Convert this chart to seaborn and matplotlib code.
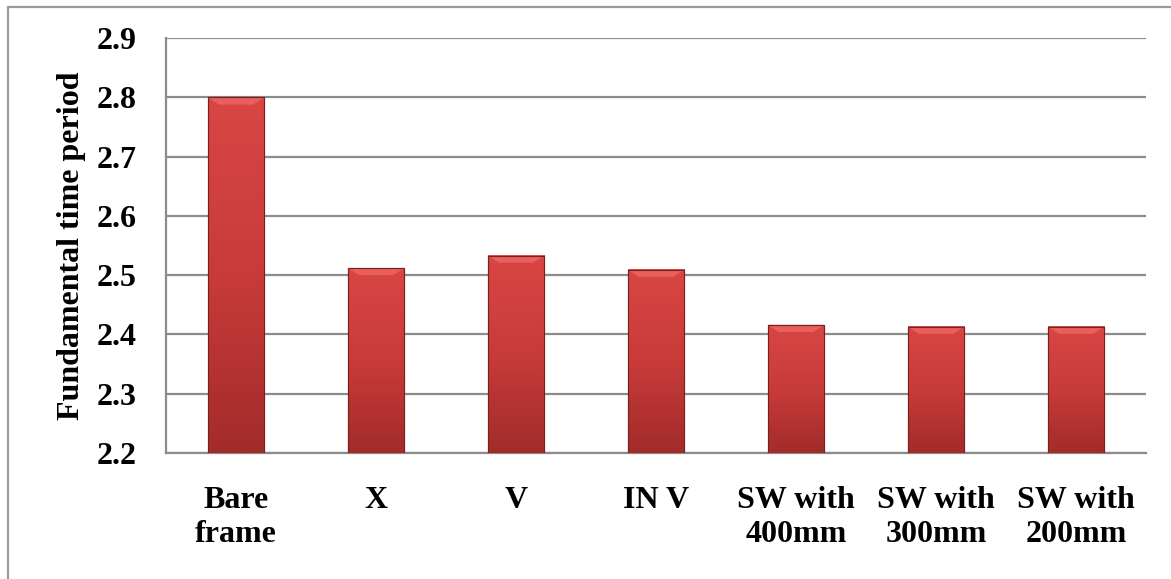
import matplotlib
matplotlib.use("Agg")
import matplotlib.pyplot as plt
import seaborn as sns
import numpy as np
import pandas as pd
from matplotlib.colors import LinearSegmentedColormap
from matplotlib.lines import Line2D

categories = ["Bare\nframe", "X", "V", "IN V", "SW with\n400mm", "SW with\n300mm", "SW with\n200mm"]
values = [2.80, 2.512, 2.533, 2.509, 2.416, 2.413, 2.413]
y_ticks = [2.2, 2.3, 2.4, 2.5, 2.6, 2.7, 2.8, 2.9]
y_label = "Fundamental time period"

sns.set_theme(style="white")
plt.rcParams['font.family'] = ['Liberation Serif', 'DejaVu Serif']
plt.rcParams['font.weight'] = 'bold'

df = pd.DataFrame({"cat": categories, "val": values})

fig = plt.figure(figsize=(11.71, 5.79), dpi=100)
ax = fig.add_axes([0.1418, 0.218, 0.8369, 0.716])

YMIN, YMAX = 2.2, 2.9

sns.barplot(data=df, x="cat", y="val", color="#C93C3A", width=0.405,
            edgecolor="#7A1F1F", linewidth=0.8, ax=ax, zorder=3, saturation=1)

ax.set_ylim(YMIN, YMAX)
ax.set_xlim(-0.5, len(categories) - 0.5)

# gradient fill on bars (visible part only)
cmap = LinearSegmentedColormap.from_list("bar", ["#A22C2A", "#C83B39", "#D94644"])
for p in ax.patches:
    x0, y0 = p.get_x(), p.get_y()
    w, h = p.get_width(), p.get_height()
    top = y0 + h
    yb = max(y0, YMIN)
    grad = np.linspace(0, 1, 256).reshape(-1, 1)
    ax.imshow(grad, cmap=cmap, aspect="auto", origin="lower",
              extent=[x0, x0 + w, yb, top], zorder=3.5, interpolation="bilinear")
    bev = 0.012
    ax.fill([x0, x0 + w, x0 + w * 0.8, x0 + w * 0.2],
            [top, top, top - bev, top - bev], color="#E8605C", zorder=3.7, lw=0)
    ax.add_patch(plt.Rectangle((x0, yb), w, top - yb, fill=False, edgecolor="#7A1F1F",
                               lw=0.8, zorder=3.8))
ax.set_xlim(-0.5, len(categories) - 0.5)
ax.set_ylim(YMIN, YMAX)

ax.set_yticks(y_ticks)
ax.set_yticklabels([f"{t:.1f}" for t in y_ticks])
ax.yaxis.grid(True, color="#8C8C8C", linewidth=1.6, zorder=0)
ax.xaxis.grid(False)
ax.set_axisbelow(True)

for s in ["top", "right"]:
    ax.spines[s].set_visible(False)
for s in ["left", "bottom"]:
    ax.spines[s].set_color("#8C8C8C")
    ax.spines[s].set_linewidth(1.6)

FS = 23
ax.tick_params(axis="both", length=0, labelsize=FS)
ax.tick_params(axis="y", pad=21)
ax.tick_params(axis="x", pad=24)
for lab in ax.get_xticklabels() + ax.get_yticklabels():
    lab.set_fontweight("bold")
    lab.set_color("black")

ax.set_xlabel("")
ax.set_ylabel(y_label, fontsize=FS, fontweight="bold", color="black", labelpad=8)

# outer chart border (left and top visible)
fig.add_artist(Line2D([0.0072, 0.0072], [0.0, 0.988], color="#9A9A9A", lw=1.6,
                      transform=fig.transFigure))
fig.add_artist(Line2D([0.0072, 1.0], [0.988, 0.988], color="#9A9A9A", lw=1.6,
                      transform=fig.transFigure))

fig.savefig("out.png", dpi=100)
